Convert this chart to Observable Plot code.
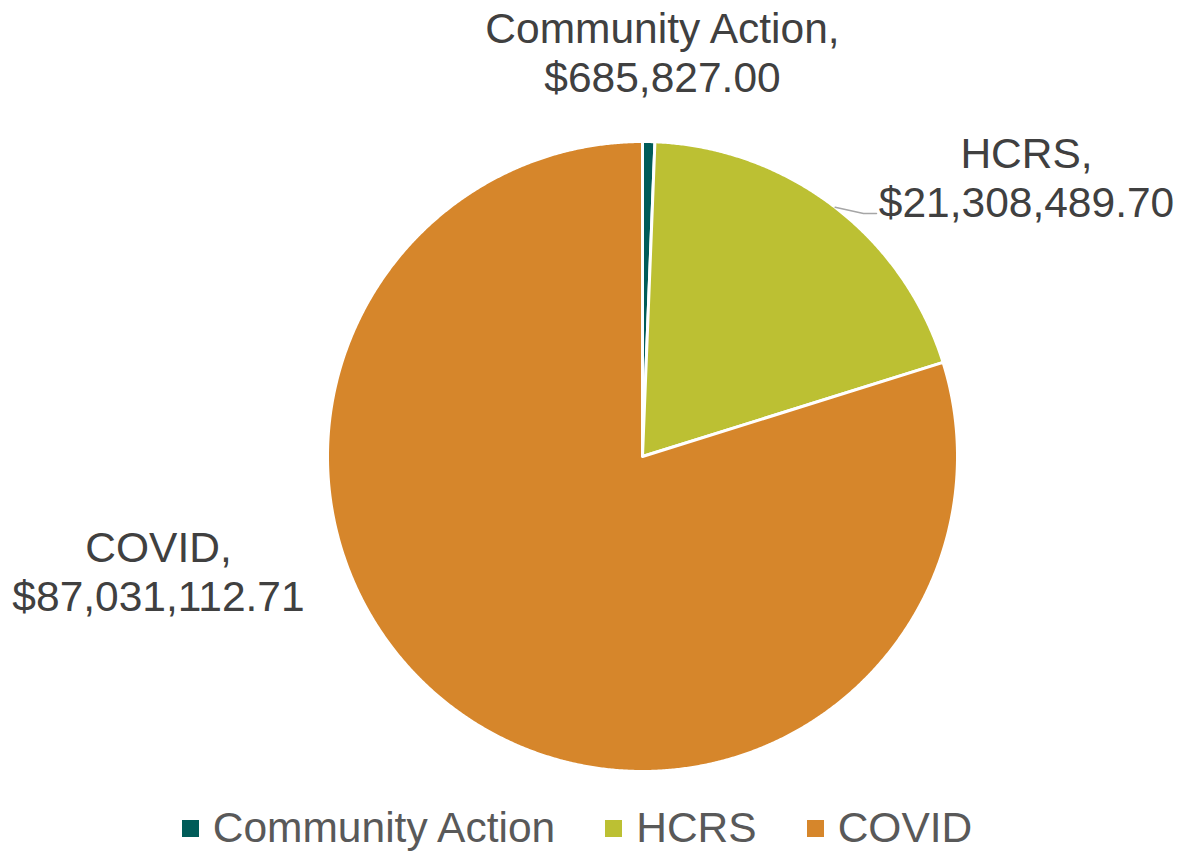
<!DOCTYPE html>
<html>
<head>
<meta charset="utf-8">
<script src="https://cdn.jsdelivr.net/npm/d3@7"></script>
<script src="https://cdn.jsdelivr.net/npm/@observablehq/plot@0.6"></script>
<style>
  body { margin: 0; background: #fff; font-family: "Liberation Sans", Arial, sans-serif; }
  #legend { display: flex; justify-content: center; align-items: center; height: 56px; font-size: 42.5px; color: #595959; transform: translateX(-13px); }
  .item { display: flex; align-items: center; margin: 0 25px; }
  .sw { width: 17px; height: 17px; margin-right: 14px; }
</style>
</head>
<body>
<div id="chart"></div>
<div id="legend"></div>
<script>
const categories = ["Community Action", "HCRS", "COVID"];
const values = [685827.00, 21308489.70, 87031112.71];
const colors = ["#005c59", "#bcc033", "#d6862b"];

// layout
const W = 1180, H = 800, cx = 642, cy = 456, R = 315;
const labelPos = [[662, 51], [1026, 176], [158, 570]];

const fmt = d3.format("$,.2f");
const arcs = d3.pie().sort(null)(values);

const pt = (a, r) => ({x: cx + r * Math.sin(a), y: cy - r * Math.cos(a)});
const slicePts = [];
arcs.forEach((a, i) => {
  const name = categories[i];
  slicePts.push({name, ...pt(0, 0)});
  const n = Math.max(2, Math.ceil((a.endAngle - a.startAngle) / 0.005));
  for (let k = 0; k <= n; k++) {
    const t = a.startAngle + (a.endAngle - a.startAngle) * k / n;
    slicePts.push({name, ...pt(t, R)});
  }
  slicePts.push({name, ...pt(0, 0)});
});

const labelData = categories.map((c, i) => ({
  text: c + ",\n" + fmt(values[i]), x: labelPos[i][0], y: labelPos[i][1]
}));

// leader line for HCRS
const aL = Math.atan2(836 - cx, cy - 205);
const p0 = pt(aL, R);
const leader = [p0, {x: 863, y: 213}, {x: 876, y: 213}];

const chart = Plot.plot({
  width: W, height: H, margin: 0,
  x: {domain: [0, W], range: [0, W], axis: null},
  y: {domain: [0, H], range: [0, H], axis: null},
  color: {domain: categories, range: colors},
  style: {fontFamily: '"Liberation Sans", Arial, sans-serif', background: "#fff"},
  marks: [
    Plot.line(slicePts, {x: "x", y: "y", z: "name", fill: "name", stroke: "white", strokeWidth: 3, strokeLinejoin: "round"}),
    Plot.line(leader, {x: "x", y: "y", stroke: "#a6a6a6", strokeWidth: 1.5}),
    Plot.text(labelData, {x: "x", y: "y", text: "text", fontSize: 42.5, fill: "#404040", lineHeight: 1.16, textAnchor: "middle"})
  ]
});
document.getElementById("chart").appendChild(chart);

const lg = document.getElementById("legend");
categories.forEach((c, i) => {
  const it = document.createElement("div"); it.className = "item";
  const sw = document.createElement("div"); sw.className = "sw"; sw.style.background = colors[i];
  const tx = document.createElement("span"); tx.textContent = c;
  it.appendChild(sw); it.appendChild(tx); lg.appendChild(it);
});
</script>
</body>
</html>
